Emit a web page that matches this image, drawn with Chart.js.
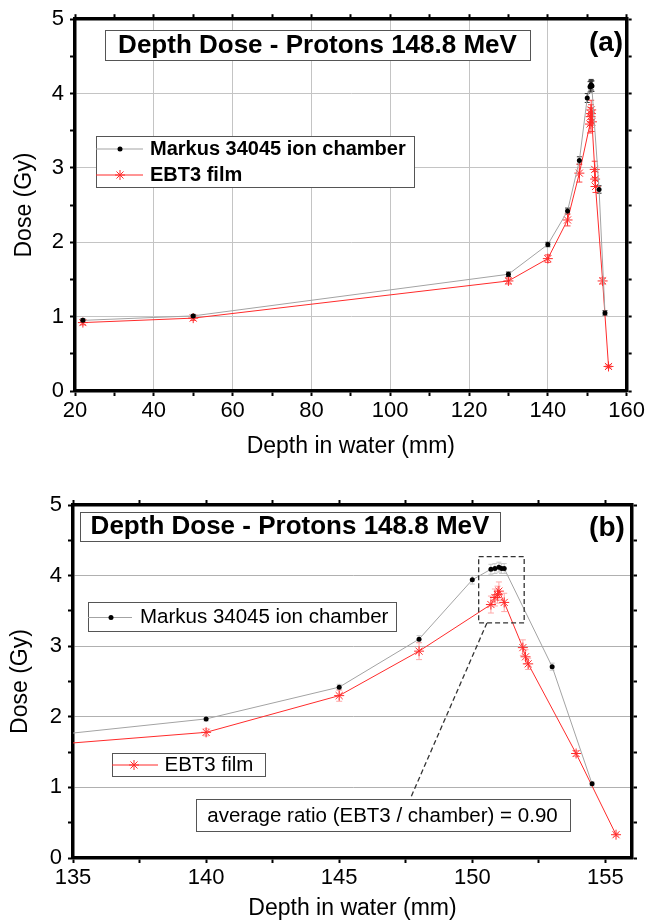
<!DOCTYPE html>
<html>
<head>
<meta charset="utf-8">
<title>Depth Dose - Protons 148.8 MeV</title>
<script src="https://cdn.jsdelivr.net/npm/chart.js"></script>
<style>
  body { margin: 0; background: #fff; }
  canvas { position: absolute; left: 0; }
  #chartA { top: 0; }
  #chartB { top: 460px; }
</style>
</head>
<body>
<canvas id="chartA" width="647" height="460"></canvas>
<canvas id="chartB" width="647" height="463"></canvas>
<script>
// Markus 34045 ion chamber
var chamberDepth = [22, 50, 130, 140, 145, 148, 150, 150.7, 150.85, 151.0, 151.1, 151.2, 153, 154.5];
var chamberDose  = [0.95, 1.01, 1.57, 1.97, 2.42, 3.10, 3.94, 4.09, 4.10, 4.12, 4.10, 4.10, 2.71, 1.05];
var chamberErr   = [0.02, 0.02, 0.03, 0.03, 0.04, 0.05, 0.06, 0.07, 0.07, 0.07, 0.07, 0.07, 0.05, 0.03];

// EBT3 film
var filmDepth = [22, 50, 130, 140, 145, 148, 150.7, 150.85, 150.95, 151.0, 151.2, 151.9, 152.0, 152.1, 153.9, 155.4];
var filmDose  = [0.92, 0.98, 1.48, 1.78, 2.30, 2.93, 3.59, 3.69, 3.73, 3.78, 3.62, 2.98, 2.85, 2.75, 1.48, 0.33];
var filmErr   = [0.03, 0.03, 0.04, 0.05, 0.08, 0.12, 0.12, 0.12, 0.12, 0.13, 0.13, 0.11, 0.10, 0.08, 0.04, 0.02];

// tick labels
var depthTicksA = [20, 40, 60, 80, 100, 120, 140, 160];
var depthTicksB = [135, 140, 145, 150, 155];
var doseTicks   = [0, 1, 2, 3, 4, 5];

var titleText = 'Depth Dose - Protons 148.8 MeV';
var chamberLabel = 'Markus 34045 ion chamber';
var filmLabel = 'EBT3 film';
var ratioText = 'average ratio (EBT3 / chamber) = 0.90';

var FONT = '"Liberation Sans", Arial, sans-serif';
var CHAMBER_LINE = '#a3a3a3';
var FILM_RED = '#ff2b2b';

function points(xs, ys, es) {
  return xs.map(function (x, i) { return { x: x, y: ys[i], err: es[i] }; });
}

// majors plus the midpoints between them (minor ticks)
function tickList(majors) {
  var out = [];
  for (var i = 0; i < majors.length; i++) {
    out.push(majors[i]);
    if (i < majors.length - 1) out.push((majors[i] + majors[i + 1]) / 2);
  }
  return out;
}

function makeAxis(o) {
  return {
    type: 'linear',
    position: o.position,
    min: o.min,
    max: o.max,
    afterBuildTicks: function (s) {
      s.ticks = tickList(o.majors).map(function (v) { return { value: v }; });
    },
    afterFit: function (s) {
      if (s.isHorizontal()) s.height = o.size; else s.width = o.size;
    },
    border: { display: true, color: '#000', width: 3.5 },
    grid: {
      drawOnChartArea: !!o.gridOn,
      color: function (c) {
        return c.tick && o.majors.indexOf(c.tick.value) >= 0 ? o.gridColor : 'rgba(0,0,0,0)';
      },
      tickColor: '#000',
      tickLength: 5,
      tickWidth: 2,
      lineWidth: 1
    },
    ticks: {
      display: !!o.labels,
      autoSkip: false,
      maxRotation: 0,
      padding: o.tickPad || 0,
      color: '#000',
      font: { family: FONT, size: o.tickSize || 22 },
      callback: function (v) { return o.majors.indexOf(v) >= 0 ? String(v) : ''; }
    },
    title: o.title ? {
      display: true,
      text: o.title,
      color: '#000',
      font: { family: FONT, size: 23 },
      padding: o.titlePad
    } : { display: false }
  };
}

// vertical error bars, drawn under the markers
var errorBars = {
  id: 'errorBars',
  beforeDatasetsDraw: function (chart) {
    var c = chart.ctx, a = chart.chartArea, xs = chart.scales.x, ys = chart.scales.y;
    c.save();
    c.beginPath();
    c.rect(a.left, a.top, a.right - a.left, a.bottom - a.top);
    c.clip();
    chart.data.datasets.forEach(function (ds) {
      c.strokeStyle = ds.errColor;
      c.lineWidth = 1;
      ds.data.forEach(function (p) {
        var px = xs.getPixelForValue(p.x);
        var t = ys.getPixelForValue(p.y + p.err);
        var b = ys.getPixelForValue(p.y - p.err);
        var w = ds.errCap;
        c.beginPath();
        c.moveTo(px, t); c.lineTo(px, b);
        c.moveTo(px - w, t); c.lineTo(px + w, t);
        c.moveTo(px - w, b); c.lineTo(px + w, b);
        c.stroke();
      });
    });
    c.restore();
  }
};

function labelBox(c, x, y, w, h) {
  c.fillStyle = '#fff';
  c.fillRect(x, y, w, h);
  c.strokeStyle = '#555';
  c.lineWidth = 1;
  c.strokeRect(Math.round(x) + 0.5, Math.round(y) + 0.5, Math.round(w), Math.round(h));
}

function label(c, txt, x, y, font, align) {
  c.fillStyle = '#000';
  c.font = font;
  c.textAlign = align;
  c.textBaseline = 'middle';
  c.fillText(txt, x, y);
}

function star(c, x, y, r, color) {
  c.strokeStyle = color;
  c.lineWidth = 1;
  c.beginPath();
  for (var k = 0; k < 4; k++) {
    var ang = k * Math.PI / 4;
    c.moveTo(x - r * Math.cos(ang), y - r * Math.sin(ang));
    c.lineTo(x + r * Math.cos(ang), y + r * Math.sin(ang));
  }
  c.stroke();
}

function sampleChamber(c, x0, x1, xm, y) {
  c.strokeStyle = CHAMBER_LINE; c.lineWidth = 1;
  c.beginPath(); c.moveTo(x0, y); c.lineTo(x1, y); c.stroke();
  c.fillStyle = '#000';
  c.beginPath(); c.arc(xm, y, 2.5, 0, Math.PI * 2); c.fill();
}

function sampleFilm(c, x0, x1, xm, y) {
  c.strokeStyle = FILM_RED; c.lineWidth = 1;
  c.beginPath(); c.moveTo(x0, y); c.lineTo(x1, y); c.stroke();
  star(c, xm, y, 5, FILM_RED);
}

var decoA = {
  id: 'decoA',
  afterDraw: function (chart) {
    var c = chart.ctx;
    c.save();
    labelBox(c, 105, 30, 425, 30);
    label(c, titleText, 317.5, 45.5, 'bold 26px ' + FONT, 'center');
    label(c, '(a)', 606, 43, 'bold 28px ' + FONT, 'center');
    labelBox(c, 96, 136, 318, 51);
    sampleChamber(c, 96, 143, 120, 149);
    label(c, chamberLabel, 150, 149, 'bold 20px ' + FONT, 'left');
    sampleFilm(c, 96, 143, 120, 175);
    label(c, filmLabel, 150, 175, 'bold 20px ' + FONT, 'left');
    c.restore();
  }
};

// dashed frame around the peak region, in data units
var peakFrame = { x0: 150.24, x1: 151.95, y0: 3.33, y1: 4.27 };
var leader = { x0: 150.55, y0: 3.33, x1: 147.67, y1: 0.84 };

var decoB = {
  id: 'decoB',
  afterDraw: function (chart) {
    var c = chart.ctx, xs = chart.scales.x, ys = chart.scales.y;
    c.save();
    labelBox(c, 80, 52, 420, 29);
    label(c, titleText, 290, 67, 'bold 26px ' + FONT, 'center');
    label(c, '(b)', 607, 68, 'bold 28px ' + FONT, 'center');

    labelBox(c, 88, 142, 308, 29);
    sampleChamber(c, 88, 132, 111, 157.5);
    label(c, chamberLabel, 140, 157.5, '20.5px ' + FONT, 'left');

    labelBox(c, 112, 293, 153, 23);
    sampleFilm(c, 112, 158, 134, 305);
    label(c, filmLabel, 164.5, 305, '20.5px ' + FONT, 'left');

    c.strokeStyle = '#333';
    c.lineWidth = 1.3;
    c.setLineDash([5, 3]);
    var fx0 = xs.getPixelForValue(peakFrame.x0), fx1 = xs.getPixelForValue(peakFrame.x1);
    var fy0 = ys.getPixelForValue(peakFrame.y0), fy1 = ys.getPixelForValue(peakFrame.y1);
    c.strokeRect(fx0, fy1, fx1 - fx0, fy0 - fy1);
    c.beginPath();
    c.moveTo(xs.getPixelForValue(leader.x0), ys.getPixelForValue(leader.y0));
    c.lineTo(xs.getPixelForValue(leader.x1), ys.getPixelForValue(leader.y1));
    c.stroke();
    c.setLineDash([]);

    labelBox(c, 195.5, 339, 374, 32);
    label(c, ratioText, 382.5, 356, '20.5px ' + FONT, 'center');
    c.restore();
  }
};

function buildChart(id, cfg) {
  var chamber = {
    data: points(chamberDepth, chamberDose, chamberErr),
    showLine: true,
    borderColor: CHAMBER_LINE,
    borderWidth: 1,
    pointRadius: 2.5,
    pointBackgroundColor: '#000',
    pointBorderColor: '#000',
    pointBorderWidth: 0,
    errColor: cfg.chamberErrColor,
    errCap: 2.5
  };
  var film = {
    data: points(filmDepth, filmDose, filmErr),
    showLine: true,
    borderColor: FILM_RED,
    borderWidth: 1,
    pointStyle: 'star',
    pointRadius: 5,
    pointBorderColor: FILM_RED,
    pointBackgroundColor: FILM_RED,
    pointBorderWidth: 1,
    errColor: cfg.filmErrColor,
    errCap: 3
  };
  return new Chart(document.getElementById(id), {
    type: 'scatter',
    data: { datasets: [chamber, film] },
    options: {
      responsive: false,
      animation: false,
      events: [],
      layout: { padding: 0 },
      plugins: { legend: { display: false }, tooltip: { enabled: false } },
      scales: {
        x: makeAxis({ position: 'bottom', min: cfg.xMin, max: cfg.xMax, majors: cfg.xMajors,
          labels: true, gridOn: cfg.xGrid, gridColor: cfg.gridColor, size: cfg.bottom,
          tickPad: 2, title: 'Depth in water (mm)', titlePad: { top: 0, bottom: cfg.xTitlePad } }),
        x2: makeAxis({ position: 'top', min: cfg.xMin, max: cfg.xMax, majors: cfg.xMajors,
          labels: false, gridOn: false, size: cfg.top }),
        y: makeAxis({ position: 'left', min: 0, max: 5, majors: doseTicks,
          labels: true, gridOn: true, gridColor: cfg.gridColor, size: cfg.left,
          tickPad: 6, title: 'Dose (Gy)', titlePad: { top: cfg.yTitlePad, bottom: 0 } }),
        y2: makeAxis({ position: 'right', min: 0, max: 5, majors: doseTicks,
          labels: false, gridOn: false, size: cfg.right })
      }
    },
    plugins: [errorBars, cfg.deco]
  });
}

buildChart('chartA', {
  xMin: 20, xMax: 160, xMajors: depthTicksA, xGrid: true, gridColor: '#c4c4c4',
  left: 75, right: 19, top: 19, bottom: 69, xTitlePad: 0, yTitlePad: 11,
  chamberErrColor: '#333', filmErrColor: '#ff4040', deco: decoA
});

buildChart('chartB', {
  xMin: 135, xMax: 156, xMajors: depthTicksB, xGrid: false, gridColor: '#b0b0b0',
  left: 73, right: 15, top: 45, bottom: 65, xTitlePad: 1, yTitlePad: 7,
  chamberErrColor: '#c8c8c8', filmErrColor: '#ffa8a8', deco: decoB
});
</script>
</body>
</html>
